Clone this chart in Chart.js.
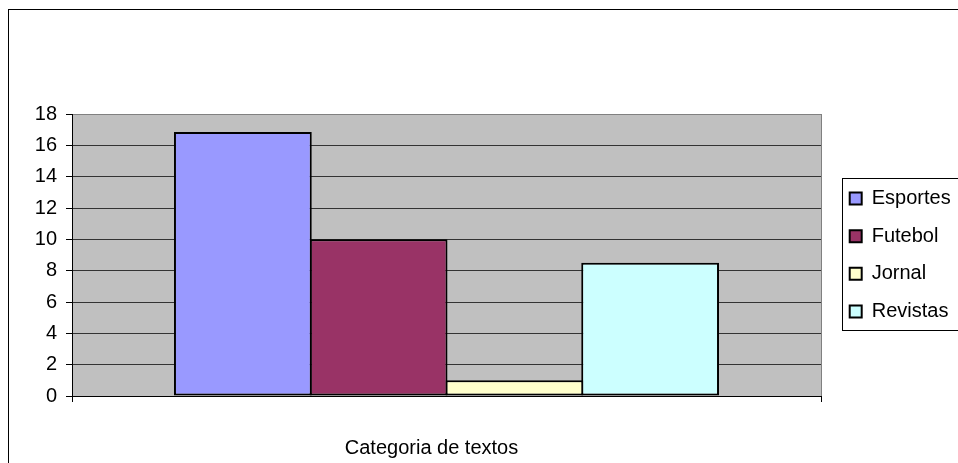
<!DOCTYPE html>
<html>
<head>
<meta charset="utf-8">
<script src="https://cdn.jsdelivr.net/npm/chart.js@4/dist/chart.umd.min.js"></script>
<style>
  body { margin: 0; background: #fff; }
  #wrap { width: 958px; height: 463px; }
</style>
</head>
<body>
<div id="wrap"><canvas id="chart" width="958" height="463"></canvas></div>
<script>
// dados do gráfico
const categorias = ["Categoria de textos"];
const series = ["Esportes", "Futebol", "Jornal", "Revistas"];
const valores = [16.85, 10, 1, 8.5];
const cores = ["#9999FF", "#993366", "#FFFFCC", "#CCFFFF"];
const yTicks = [0, 2, 4, 6, 8, 10, 12, 14, 16, 18];

const FONTE = "'Liberation Sans', Arial, sans-serif";

// fundo cinza da área do gráfico + moldura externa + caixa da legenda
const excelLook = {
  id: "excelLook",
  beforeLayout(chart) {
    const lg = chart.legend;
    if (lg && !lg._fixo) {
      const fitOrig = lg.fit;
      lg.fit = function () {
        fitOrig.call(this);
        this.width = 137;
      };
      lg._fixo = true;
    }
  },
  afterLayout(chart) {
    const lg = chart.legend;
    lg.left += 11;
    lg.right += 11;
  },
  beforeDraw(chart) {
    const { ctx, chartArea: a } = chart;
    ctx.save();
    ctx.fillStyle = "#C0C0C0";
    ctx.fillRect(a.left, a.top, a.right - a.left, a.bottom - a.top);
    ctx.restore();
  },
  afterDraw(chart) {
    const { ctx, chartArea: a } = chart;
    const lg = chart.legend;
    ctx.save();
    ctx.strokeStyle = "#000";
    ctx.lineWidth = 1;
    // moldura externa
    ctx.strokeRect(8.5, 9.5, 1200, 1200);
    // caixa da legenda
    const meio = (a.top + a.bottom) / 2;
    const x0 = Math.round(lg.left + lg.options.labels.padding - 8) + 0.5;
    ctx.strokeRect(x0, Math.round(meio - 77) + 0.5, 200, 152);
    ctx.restore();
  }
};

const ctx = document.getElementById("chart").getContext("2d");
const chart = new Chart(ctx, {
  type: "bar",
  data: {
    labels: categorias,
    datasets: series.map((nome, i) => ({
      label: nome,
      data: [valores[i]],
      backgroundColor: cores[i],
      borderColor: "#000",
      borderWidth: 2,
      borderSkipped: false,
      categoryPercentage: 0.725,
      barPercentage: 1.015
    }))
  },
  options: {
    responsive: false,
    animation: false,
    devicePixelRatio: 1,
    layout: { padding: { top: 114, left: 0, right: 0, bottom: 0 } },
    plugins: {
      title: { display: false },
      tooltip: { enabled: false },
      legend: {
        position: "right",
        fullSize: false,
        align: "center",
        labels: {
          color: "#000",
          font: { family: FONTE, size: 20 },
          boxWidth: 12,
          boxHeight: 12,
          padding: 17.7
        }
      }
    },
    scales: {
      x: {
        afterFit(scale) { scale.height = 67; },
        grid: {
          offset: true,
          drawOnChartArea: true,
          color: "#808080",
          tickColor: "#000",
          tickLength: 6
        },
        border: { color: "#000", width: 1 },
        ticks: {
          color: "#000",
          font: { family: FONTE, size: 20 },
          padding: 34,
          labelOffset: -15,
          maxRotation: 0
        }
      },
      y: {
        min: 0,
        max: 18,
        afterFit(scale) { scale.width = 72; },
        afterBuildTicks(scale) { scale.ticks = yTicks.map(v => ({ value: v })); },
        grid: {
          color: (c) => (c.tick && c.tick.value === 18 ? "#808080" : "#333"),
          tickColor: "#000",
          tickLength: 6
        },
        border: { color: "#000", width: 1 },
        ticks: {
          color: "#000",
          font: { family: FONTE, size: 20 },
          padding: 9,
          stepSize: 2
        }
      }
    }
  },
  plugins: [excelLook]
});
</script>
</body>
</html>
